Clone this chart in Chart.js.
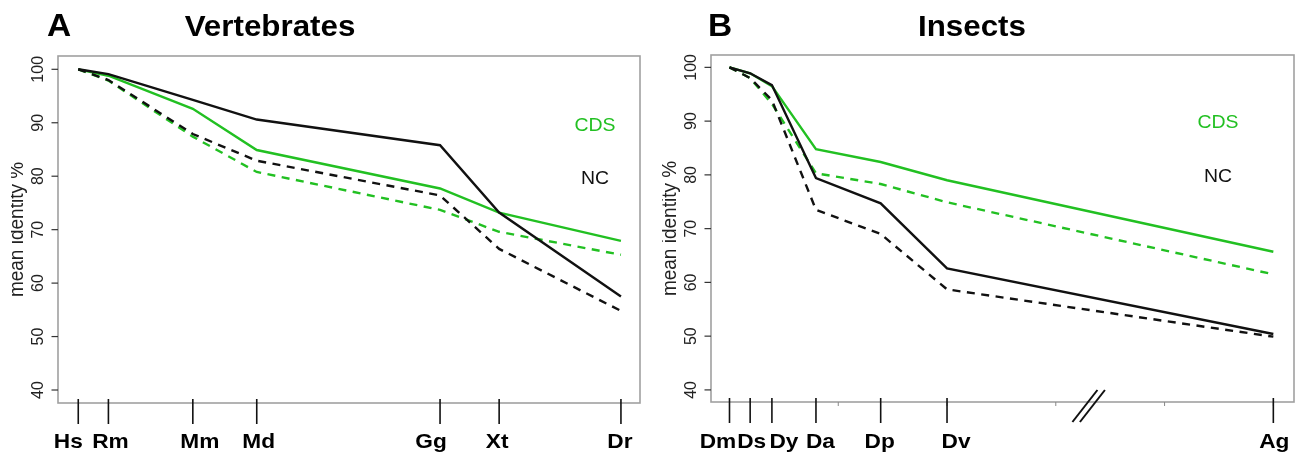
<!DOCTYPE html>
<html>
<head>
<meta charset="utf-8">
<script src="https://cdn.jsdelivr.net/npm/chart.js@4.4.1/dist/chart.umd.min.js"></script>
<style>
  html, body { margin: 0; padding: 0; background: #fff; }
  #wrap { position: relative; width: 1302px; height: 455px; overflow: hidden; background: #fff; }
  canvas { position: absolute; top: 0; }
  #cA { left: 0; }
  #cB { left: 651px; }
</style>
</head>
<body>
<div id="wrap">
  <canvas id="cA" width="651" height="455"></canvas>
  <canvas id="cB" width="651" height="455"></canvas>
</div>
<script>
// ---- Vertebrates ----
const vertSpecies   = ['Hs', 'Rm', 'Mm', 'Md', 'Gg', 'Xt', 'Dr'];
const vertX         = [0, 25, 95, 148, 300, 349, 450];
const vertCdsSolid  = [100, 98.8, 92.6, 84.9, 77.7, 73.2, 67.9];
const vertCdsDashed = [100, 97.9, 87.4, 80.8, 73.7, 69.6, 65.3];
const vertNcSolid   = [100, 99.1, 94.3, 90.6, 85.8, 73.2, 57.5];
const vertNcDashed  = [100, 98.0, 87.9, 82.9, 76.4, 66.4, 54.8];

// ---- Insects ----
const insectSpecies   = ['Dm', 'Ds', 'Dy', 'Da', 'Dp', 'Dv', 'Ag'];
const insectX         = [0, 19, 39, 79.5, 139, 200, 500];
const insectCdsSolid  = [100, 98.9, 96.5, 84.8, 82.4, 79.0, 65.7];
const insectCdsDashed = [100, 98.0, 93.2, 80.3, 78.3, 74.9, 61.5];
const insectNcSolid   = [100, 98.9, 96.7, 79.4, 74.7, 62.6, 50.4];
const insectNcDashed  = [100, 98.0, 93.9, 73.5, 69.0, 58.7, 49.9];
const insectMinorTicks = [0, 100, 200, 300, 400, 500];
const insectBreakAt    = 330;

const yTicks = [40, 50, 60, 70, 80, 90, 100];
const yTitle = 'mean identity %';

const GREEN = '#22c022';
const BLACK = '#111111';
const FONT  = '"Liberation Sans", Arial, Helvetica, sans-serif';
const SX = 1.08; // horizontal text stretch

function txt(ctx, s, x, y, font, color, align, rot) {
  ctx.save();
  ctx.font = font;
  ctx.fillStyle = color;
  ctx.textAlign = align || 'center';
  ctx.textBaseline = 'alphabetic';
  ctx.translate(x, y);
  ctx.scale(SX, 1);
  if (rot) ctx.rotate(rot);
  ctx.fillText(s, 0, 0);
  ctx.restore();
}

function line(ctx, x1, y1, x2, y2, color, w) {
  ctx.save();
  ctx.strokeStyle = color;
  ctx.lineWidth = w;
  ctx.beginPath();
  ctx.moveTo(x1, y1);
  ctx.lineTo(x2, y2);
  ctx.stroke();
  ctx.restore();
}

const decor = {
  id: 'decor',
  afterDraw(chart, args, o) {
    const ctx = chart.ctx;
    const a = chart.chartArea;
    const xs = chart.scales.x, ys = chart.scales.y;

    // frame
    ctx.save();
    ctx.strokeStyle = '#a0a0a0';
    ctx.lineWidth = 1.6;
    ctx.strokeRect(a.left, a.top, a.right - a.left, a.bottom - a.top);
    ctx.restore();

    // y ticks and rotated labels
    yTicks.forEach(v => {
      const py = ys.getPixelForValue(v);
      line(ctx, a.left - 6.5, py, a.left, py, '#333', 1.2);
      txt(ctx, String(v), a.left - 15.5, py, '16px ' + FONT, '#222', 'center', -Math.PI / 2);
    });

    // y title (left margin is cropped)
    ctx.save();
    ctx.beginPath();
    ctx.rect(11, 0, chart.width, chart.height);
    ctx.clip();
    txt(ctx, yTitle, a.left - 35.5, (a.top + a.bottom) / 2, '19px ' + FONT, '#222', 'center', -Math.PI / 2);
    ctx.restore();

    // minor ticks on the bottom axis
    (o.minor || []).forEach(v => {
      const px = xs.getPixelForValue(v);
      line(ctx, px, a.bottom, px, a.bottom + 4, '#888', 1);
    });

    // species ticks and labels
    o.species.forEach((s, i) => {
      const px = xs.getPixelForValue(o.xs[i]);
      line(ctx, px, a.bottom - 4, px, a.bottom + 21, BLACK, 1.6);
      txt(ctx, s, px + o.labelShift[i], 448, 'bold 21px ' + FONT, '#000', 'center');
    });

    // axis break mark
    if (o.breakAt != null) {
      const bx = xs.getPixelForValue(o.breakAt);
      line(ctx, bx - 16, 422, bx + 9, 390, BLACK, 2);
      line(ctx, bx - 8.5, 422, bx + 16.5, 390, BLACK, 2);
    }

    // panel letter and title
    txt(ctx, o.letter, o.letterX, 36, 'bold 31px ' + FONT, '#000', 'center');
    txt(ctx, o.title, o.titleX, 36, 'bold 29px ' + FONT, '#000', 'center');

    // series key
    txt(ctx, 'CDS', o.keyX, o.keyY[0], '18px ' + FONT, GREEN, 'center');
    txt(ctx, 'NC', o.keyX, o.keyY[1], '18px ' + FONT, BLACK, 'center');
  }
};

function series(xs, ys, label, color, dashed) {
  return {
    label,
    data: xs.map((x, i) => ({ x, y: ys[i] })),
    borderColor: color,
    borderWidth: 2.4,
    borderDash: dashed ? [8, 6.5] : [],
    pointRadius: 0,
    tension: 0,
    fill: false
  };
}

function makePanel(id, cfg) {
  return new Chart(document.getElementById(id), {
    type: 'line',
    data: {
      datasets: [
        series(cfg.xs, cfg.ncSolid, 'NC', BLACK, false),
        series(cfg.xs, cfg.ncDashed, 'NC (dashed)', BLACK, true),
        series(cfg.xs, cfg.cdsSolid, 'CDS', GREEN, false),
        series(cfg.xs, cfg.cdsDashed, 'CDS (dashed)', GREEN, true)
      ]
    },
    options: {
      responsive: false,
      animation: false,
      devicePixelRatio: 1,
      layout: { padding: cfg.padding },
      scales: {
        x: { type: 'linear', min: cfg.xMin, max: cfg.xMax, display: false },
        y: { type: 'linear', min: cfg.yMin, max: cfg.yMax, display: false }
      },
      plugins: {
        legend: { display: false },
        tooltip: { enabled: false },
        decor: {
          species: cfg.species,
          xs: cfg.xs,
          labelShift: cfg.labelShift,
          minor: cfg.minor,
          breakAt: cfg.breakAt,
          letter: cfg.letter,
          letterX: cfg.letterX,
          title: cfg.title,
          titleX: cfg.titleX,
          keyX: cfg.keyX,
          keyY: cfg.keyY
        }
      }
    },
    plugins: [decor]
  });
}

makePanel('cA', {
  xs: vertX, species: vertSpecies,
  cdsSolid: vertCdsSolid, cdsDashed: vertCdsDashed,
  ncSolid: vertNcSolid, ncDashed: vertNcDashed,
  padding: { left: 58, right: 11, top: 56, bottom: 52 },
  xMin: -16.8, xMax: 465.8, yMin: 37.57, yMax: 102.49,
  labelShift: [-10, 2, 7, 2, -9, -2, -1],
  minor: [], breakAt: null,
  letter: 'A', letterX: 59, title: 'Vertebrates', titleX: 270,
  keyX: 595, keyY: [130.5, 184]
});

makePanel('cB', {
  xs: insectX, species: insectSpecies,
  cdsSolid: insectCdsSolid, cdsDashed: insectCdsDashed,
  ncSolid: insectNcSolid, ncDashed: insectNcDashed,
  padding: { left: 60, right: 8, top: 55, bottom: 53 },
  xMin: -17, xMax: 519, yMin: 37.75, yMax: 102.3,
  labelShift: [-11.5, 1.5, 12, 4.5, -1, 9, 1],
  minor: insectMinorTicks, breakAt: insectBreakAt,
  letter: 'B', letterX: 69, title: 'Insects', titleX: 321,
  keyX: 567, keyY: [128, 182]
});
</script>
</body>
</html>
